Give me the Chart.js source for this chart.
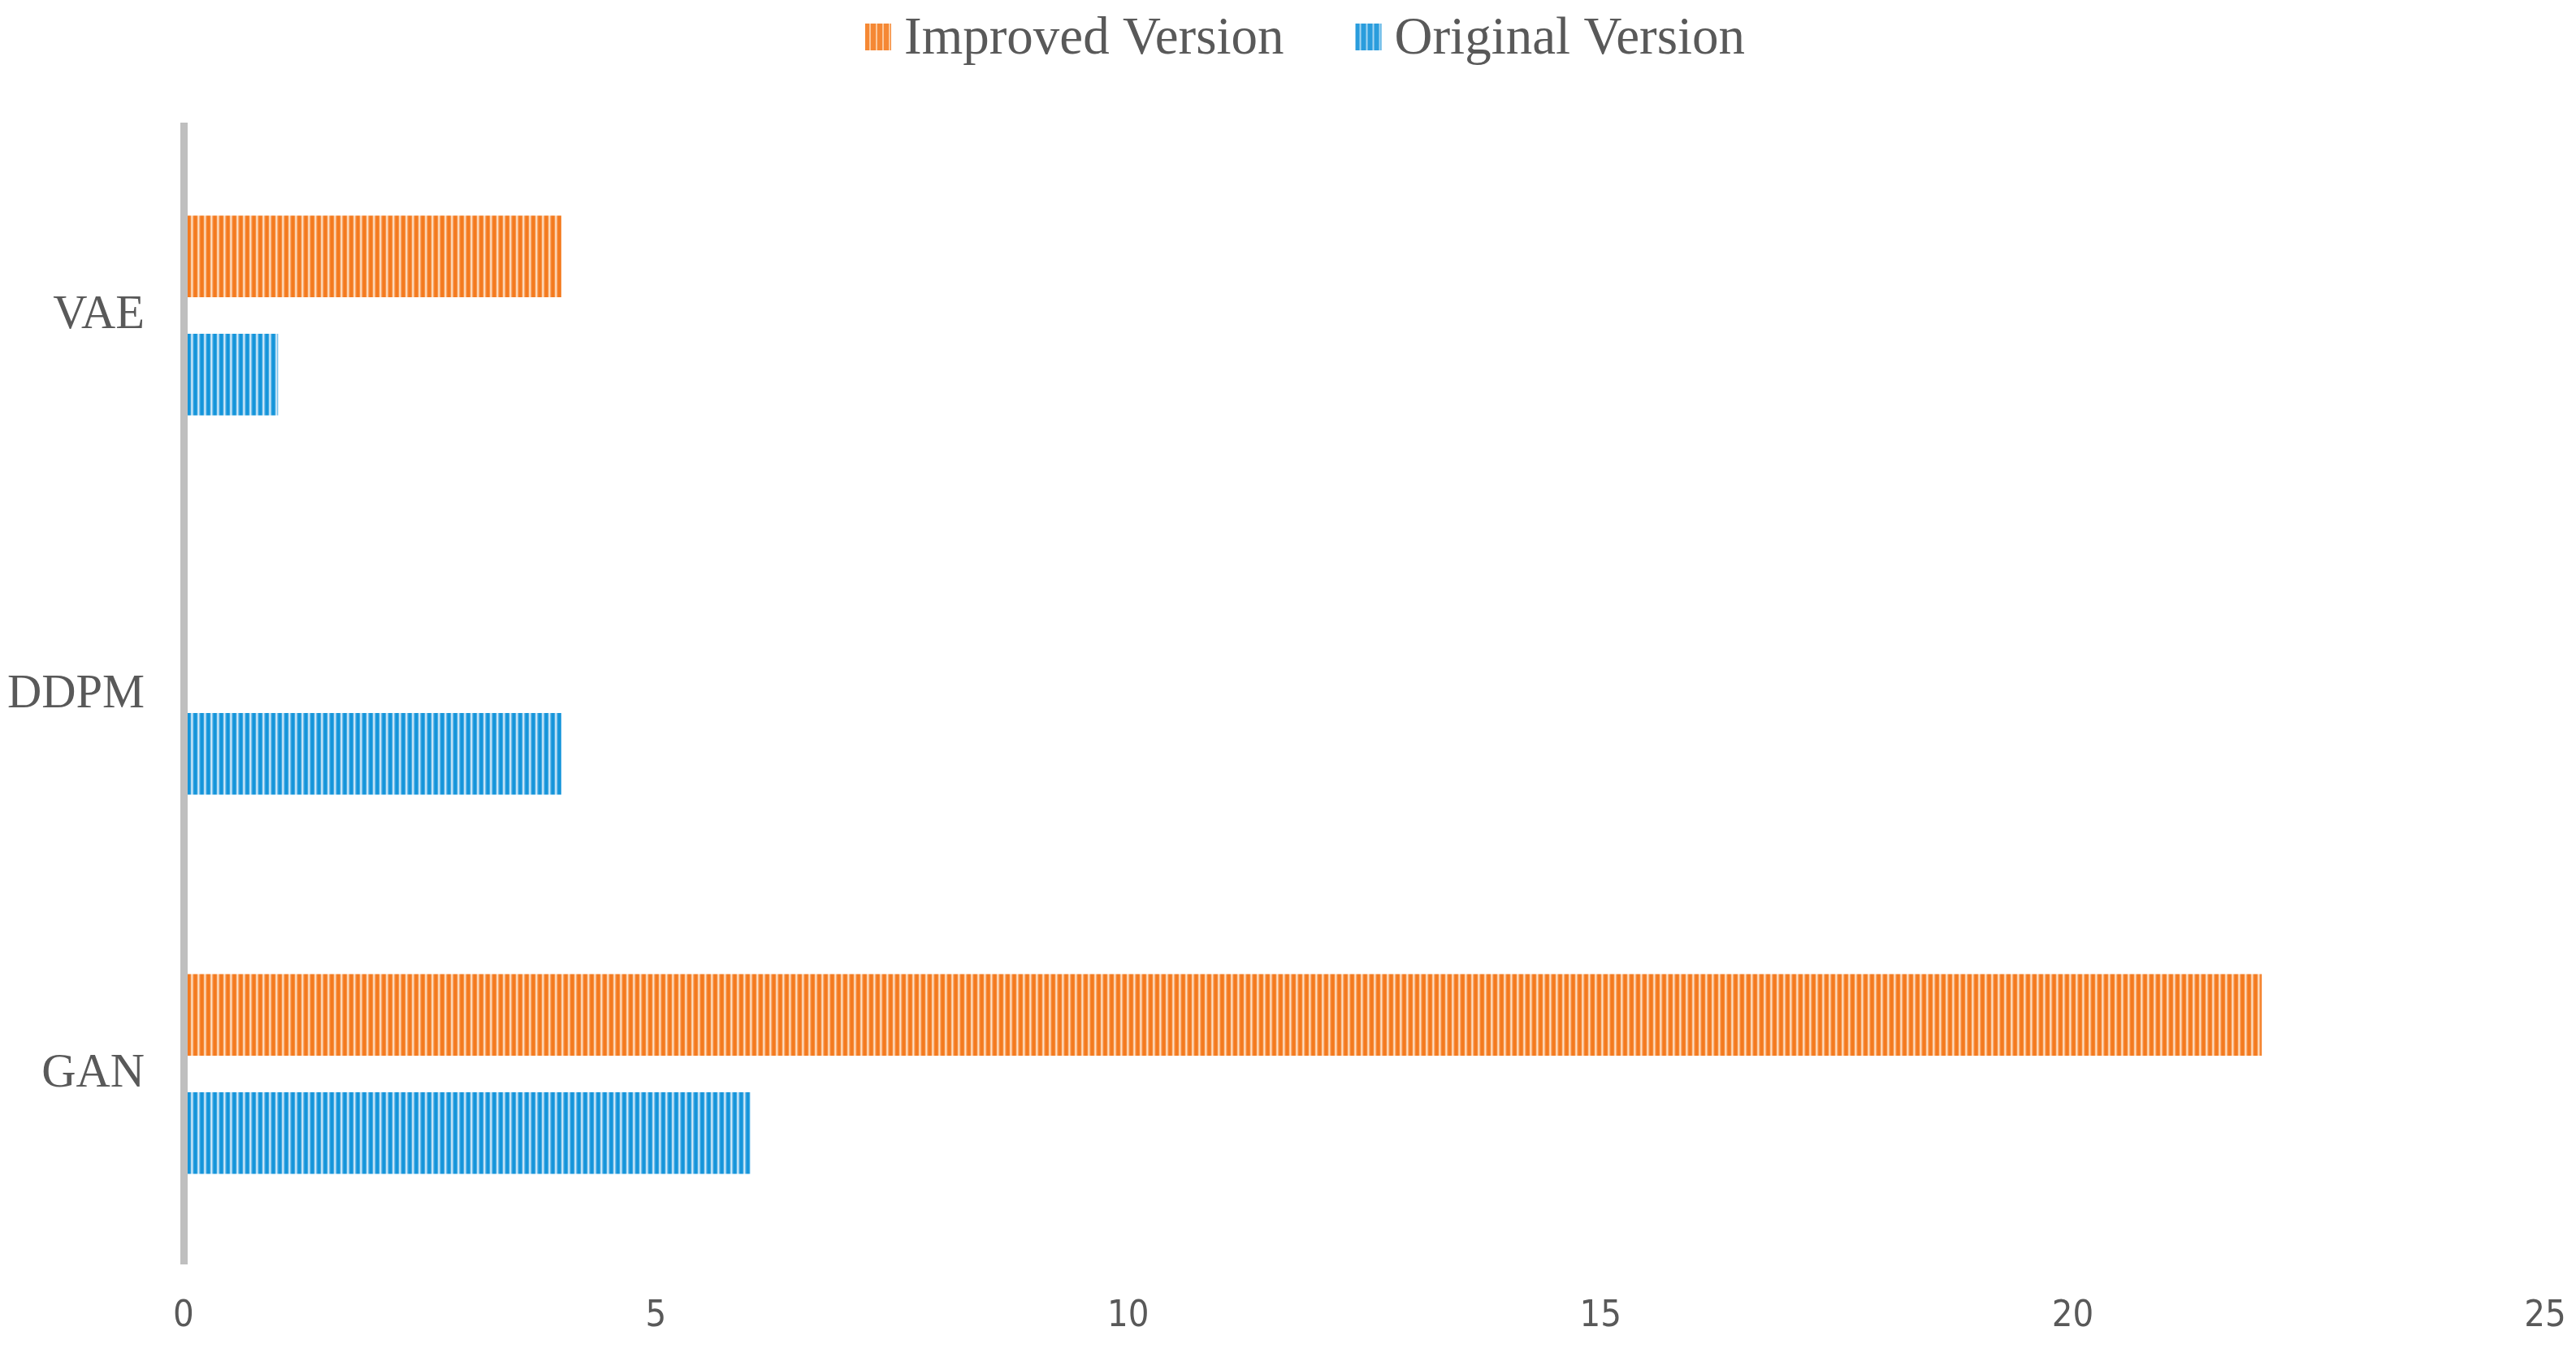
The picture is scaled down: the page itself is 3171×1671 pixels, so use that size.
<!DOCTYPE html>
<html>
<head>
<meta charset="utf-8">
<script src="https://cdn.jsdelivr.net/npm/chart.js@4/dist/chart.umd.min.js"></script>
<style>
  html, body { margin: 0; padding: 0; background: #ffffff; }
  canvas { display: block; }
</style>
</head>
<body>
<canvas id="c" width="3171" height="1671"></canvas>
<script>
// ---- data ----
const categories = ['VAE', 'DDPM', 'GAN'];
const seriesNames = ['Improved Version', 'Original Version'];
const improvedValues = [4, 0, 22];
const originalValues = [1, 4, 6];
const xTicks = [0, 5, 10, 15, 20, 25];

// ---- striped fills ----
function stripePattern(cols) {
  const c = document.createElement('canvas');
  c.width = cols.length; c.height = 4;
  const g = c.getContext('2d');
  cols.forEach((col, i) => { g.fillStyle = col; g.fillRect(i, 0, 1, 4); });
  return g.createPattern(c, 'repeat');
}
const ctx = document.getElementById('c').getContext('2d');
const orangeFill = stripePattern(['#F47A1F','#F47A1F','#F58B3A','#FBC79A','#FDE0C6','#F9B07A','#F58B3A','#F47A1F']);
const blueFill = stripePattern(['#1595DA','#1595DA','#3AA5E0','#A6D6F2','#D4EBF9','#7EC2EC','#3AA5E0','#1595DA']);
const orangeSwatch = '#F58834';
const blueSwatch = '#2A9DDD';

// ---- custom legend (top centre) ----
const legendPlugin = {
  id: 'topLegend',
  afterDraw(chart) {
    const g = chart.ctx;
    g.save();
    g.font = '65px "Liberation Serif", "Times New Roman", serif';
    g.textBaseline = 'middle';
    g.textAlign = 'left';
    const boxW = 32, boxH = 33, gap = 16, itemGap = 88, cy = 45.5;
    let x = 1065;
    chart.data.datasets.forEach((ds) => {
      g.fillStyle = ds.legendSwatch;
      g.fillRect(x, cy - boxH / 2, boxW, boxH);
      g.fillStyle = ds.legendStripe;
      for (let sx = x + 5; sx < x + boxW - 2; sx += 8) g.fillRect(sx, cy - boxH / 2, 2, boxH);
      g.fillStyle = '#595959';
      g.fillText(ds.label, x + boxW + gap, cy + 3);
      x += boxW + gap + g.measureText(ds.label).width + itemGap;
    });
    g.restore();
  }
};

new Chart(ctx, {
  type: 'bar',
  data: {
    labels: categories,
    datasets: [
      { label: seriesNames[0], data: improvedValues, backgroundColor: orangeFill, borderWidth: 0,
        legendSwatch: orangeSwatch, legendStripe: '#FBC79A' },
      { label: seriesNames[1], data: originalValues, backgroundColor: blueFill, borderWidth: 0,
        legendSwatch: blueSwatch, legendStripe: '#A6D6F2' }
    ]
  },
  options: {
    indexAxis: 'y',
    responsive: false,
    animation: false,
    devicePixelRatio: 1,
    categoryPercentage: 0.623,
    barPercentage: 0.69,
    layout: { padding: { top: 155, right: 38, left: 10, bottom: 0 } },
    plugins: { legend: { display: false }, tooltip: { enabled: false } },
    scales: {
      x: {
        min: 0, max: 25,
        afterBuildTicks(s) { s.ticks = xTicks.map(v => ({ value: v })); },
        ticks: { color: '#595959', padding: 38, maxRotation: 0,
                 font: { family: '"Liberation Sans Narrow", "DejaVu Sans Condensed", "Liberation Sans", Arial, sans-serif', size: 45 } },
        grid: { display: false, drawTicks: false },
        border: { display: false },
        afterFit(s) { s.height = 115; s.paddingRight = 0; s.paddingLeft = 0; }
      },
      y: {
        ticks: { color: '#595959', padding: 48,
                 font: { family: '"Liberation Serif", "Times New Roman", serif', size: 58.5 } },
        grid: { display: false, drawTicks: false },
        border: { display: true, color: '#BFBFBF', width: 9, z: 1 },
        afterFit(s) { s.width = 216; s.paddingTop = 0; s.paddingBottom = 0; }
      }
    }
  },
  plugins: [legendPlugin]
});
</script>
</body>
</html>
